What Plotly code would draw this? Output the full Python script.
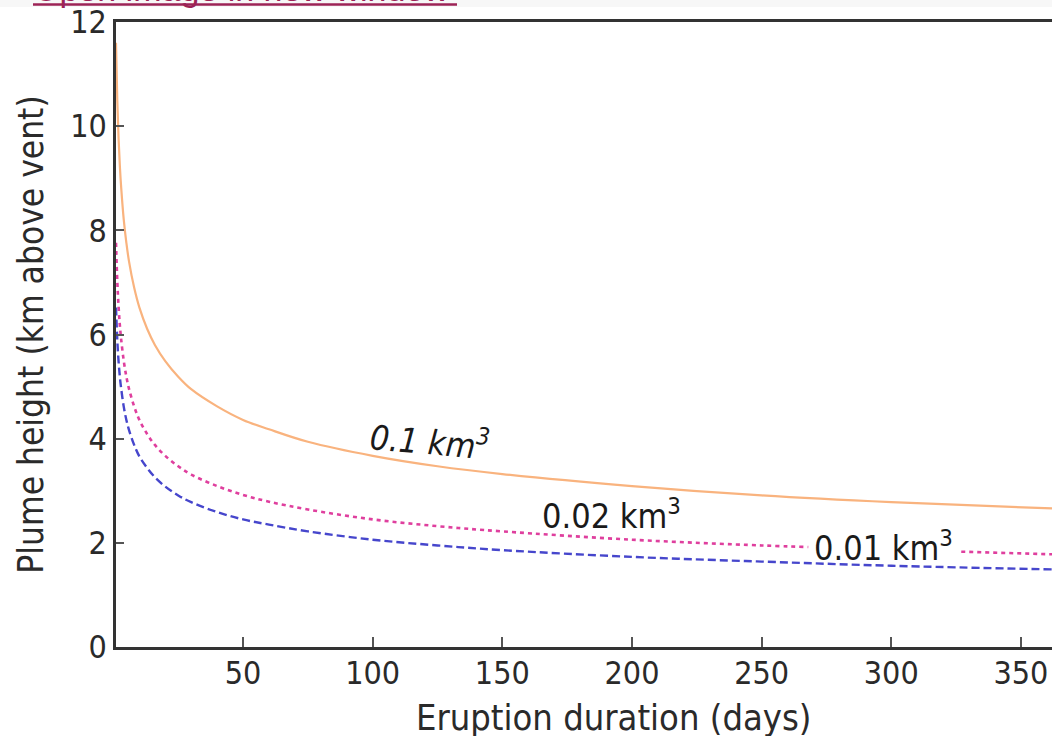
import plotly.graph_objects as go

# Eruption duration (days)
t_days = [1, 1.5, 2, 2.5, 3, 4, 5, 6, 8, 10, 13, 16, 20, 25, 30, 40, 50, 60, 75,
          100, 125, 150, 200, 250, 300, 362]
# Plume height (km above vent) for each erupted volume
h_01 = [11.6, 10.49, 9.76, 9.22, 8.82, 8.20, 7.76, 7.41, 6.90, 6.52, 6.11, 5.80, 5.49,
        5.19, 4.95, 4.62, 4.36, 4.18, 3.94, 3.67, 3.47, 3.32, 3.09, 2.91, 2.78, 2.66]
t_002 = [1, 1.5, 2, 2.5, 3, 4, 5, 6, 8, 10, 13, 16, 20, 25, 30, 40, 50, 60, 75,
         100, 125, 150, 200, 250, 268, None, 327, 362]
h_002 = [7.76, 7.02, 6.53, 6.17, 5.90, 5.49, 5.19, 4.96, 4.62, 4.36, 4.09, 3.88, 3.67,
         3.47, 3.31, 3.09, 2.92, 2.79, 2.64, 2.45, 2.32, 2.22, 2.06, 1.95, 1.92, None, 1.83, 1.78]
h_001 = [6.52, 5.89, 5.48, 5.18, 4.96, 4.61, 4.36, 4.17, 3.88, 3.66, 3.44, 3.26, 3.08,
         2.91, 2.78, 2.59, 2.45, 2.35, 2.22, 2.06, 1.95, 1.86, 1.73, 1.64, 1.56, 1.49]

x_ticks = [50, 100, 150, 200, 250, 300, 350]
y_ticks = [0, 2, 4, 6, 8, 10, 12]

FONT = "Liberation Sans Narrow, DejaVu Sans Condensed, Liberation Sans, Arial"
W, H = 1052, 736
ML, MR, MT, MB = 116, 0, 22, 89
PH = H - MT - MB  # plot height in px


def py(px):
    """page pixel row -> paper y coordinate"""
    return 1 + (MT - px) / PH


def px_x(px):
    return (px - ML) / (W - ML - MR)


fig = go.Figure()
fig.add_trace(go.Scatter(x=t_days, y=h_01, mode="lines", line_shape="spline",
                         line=dict(color="#f9b37e", width=2.2), showlegend=False))
fig.add_trace(go.Scatter(x=t_002, y=h_002, mode="lines", line_shape="spline",
                         line=dict(color="#df3f9e", width=2.6, dash="4px,4px"),
                         showlegend=False, connectgaps=False))
fig.add_trace(go.Scatter(x=t_days, y=h_001, mode="lines", line_shape="spline",
                         line=dict(color="#4646cc", width=2.4, dash="8px,4px"),
                         showlegend=False))

ann_font = dict(family=FONT, size=34, color="#1a1a1a")
fig.add_annotation(x=122, y=3.98, text="<i>0.1 km<sup>3</sup></i>", showarrow=False,
                   font=ann_font, textangle=5)
fig.add_annotation(x=192, y=2.55, text="0.02 km<sup>3</sup>", showarrow=False, font=ann_font)
fig.add_annotation(x=297, y=1.93, text="0.01 km<sup>3</sup>", showarrow=False, font=ann_font)

# x-axis title (the original plot was wider and cropped, so its title sits right of centre)
fig.add_annotation(xref="paper", yref="paper", x=px_x(613), y=py(717),
                   xanchor="center", yanchor="middle",
                   text="Eruption duration (days)", showarrow=False,
                   font=dict(family=FONT, size=36, color="#2a2a2a"))

# light band and cropped link text at the very top of the page
fig.add_shape(type="rect", xref="paper", yref="paper", x0=px_x(0), x1=1,
              y0=py(7), y1=py(0), line=dict(width=0), fillcolor="#f7f7f7", layer="below")
fig.add_annotation(xref="paper", yref="paper", x=px_x(31), y=py(10), xanchor="left",
                   yanchor="bottom", text="Open image in new window", showarrow=False,
                   font=dict(family="Liberation Sans", size=34, color="#9c2356"))
fig.add_shape(type="line", xref="paper", yref="paper", x0=px_x(33), x1=px_x(457),
              y0=py(4.5), y1=py(4.5), line=dict(color="#9c2356", width=2.5))

axis_common = dict(showline=True, linecolor="#333333", linewidth=2.5, showgrid=False,
                   zeroline=False, ticks="inside", tickcolor="#555555", tickwidth=1.5,
                   tickfont=dict(family=FONT, size=32, color="#2a2a2a"))

fig.update_xaxes(range=[1, 362], tickvals=x_ticks, ticklen=10, mirror=True,
                 ticklabelstandoff=-4, **axis_common)
fig.update_yaxes(range=[0, 12], tickvals=y_ticks, ticklen=8,
                 title=dict(text="Plume height (km above vent)", standoff=16,
                            font=dict(family=FONT, size=35, color="#2a2a2a")),
                 **axis_common)

fig.update_layout(width=W, height=H, autosize=False,
                  margin=dict(l=ML, r=MR, t=MT, b=MB),
                  paper_bgcolor="white", plot_bgcolor="white")

fig.write_html("out.html", config={"displayModeBar": False},
               post_script="document.body.style.margin='0';document.body.style.overflow='hidden';")
